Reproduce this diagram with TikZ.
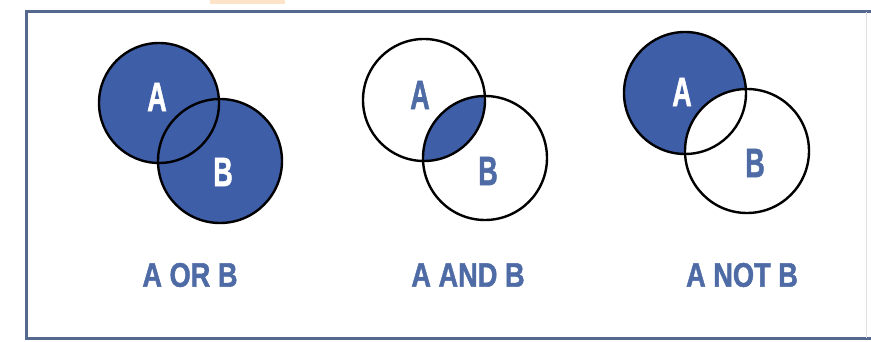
\documentclass[tikz,border=0pt]{standalone}
\usepackage{fontspec}
\setmainfont{Liberation Sans}[BoldFeatures={FakeBold=1.6}]
\definecolor{vfill}{HTML}{3F5EA8}
\definecolor{vtext}{HTML}{4E6BA6}
\definecolor{frameblue}{HTML}{55688E}
\definecolor{peach}{HTML}{FDE3C8}
\tikzset{
  venn/.style={draw=black, line width=2.4pt},
  inlabel/.style={inner sep=0pt, anchor=center, font=\bfseries\fontsize{41}{41}\selectfont},
  caption/.style={inner sep=0pt, anchor=center, text=vtext, font=\bfseries\fontsize{34}{34}\selectfont},
}
\newcommand{\cond}[1]{\scalebox{0.66}[1]{#1}}
\newcommand{\condcap}[1]{\scalebox{0.8}[1]{#1}}
\begin{document}
\begin{tikzpicture}[x=1pt,y=-1pt]
\useasboundingbox (0,0) rectangle (871,342);
% top tab
\fill[peach] (210,0) rectangle (285,4);
% frame
\draw[frameblue, line width=3pt] (871,12) -- (26,12) -- (26,338) -- (871,338);
\draw[black!12, line width=1pt] (866,12) -- (866,338);
% panel 1: A OR B
\fill[vfill] (159,103) circle (60);
\fill[vfill] (220,161) circle (62);
\draw[venn] (159,103) circle (60);
\draw[venn] (220,161) circle (62);
\node[inlabel, text=white] (a1) at (157,97) {\cond{A}};
\node[inlabel, text=white] (b1) at (223,172) {\cond{B}};
\node[caption] (c1) at (190,275) {\condcap{A OR B}};
% panel 2: A AND B
\begin{scope}
  \clip (424,100) circle (61);
  \fill[vfill] (485,158) circle (62);
\end{scope}
\draw[venn] (424,100) circle (61);
\draw[venn] (485,158) circle (62);
\node[inlabel, text=vtext] (a2) at (420,95) {\cond{A}};
\node[inlabel, text=vtext] (b2) at (488,171) {\cond{B}};
\node[caption] (c2) at (468,275) {\condcap{A AND B}};
% panel 3: A NOT B
\fill[vfill] (685,93) circle (61);
\fill[white] (747,151) circle (62);
\draw[venn] (685,93) circle (61);
\draw[venn] (747,151) circle (62);
\node[inlabel, text=white] (a3) at (682,92) {\cond{A}};
\node[inlabel, text=vtext] (b3) at (755,163) {\cond{B}};
\node[caption] (c3) at (742,275) {\condcap{A NOT B}};
\end{tikzpicture}
\end{document}
